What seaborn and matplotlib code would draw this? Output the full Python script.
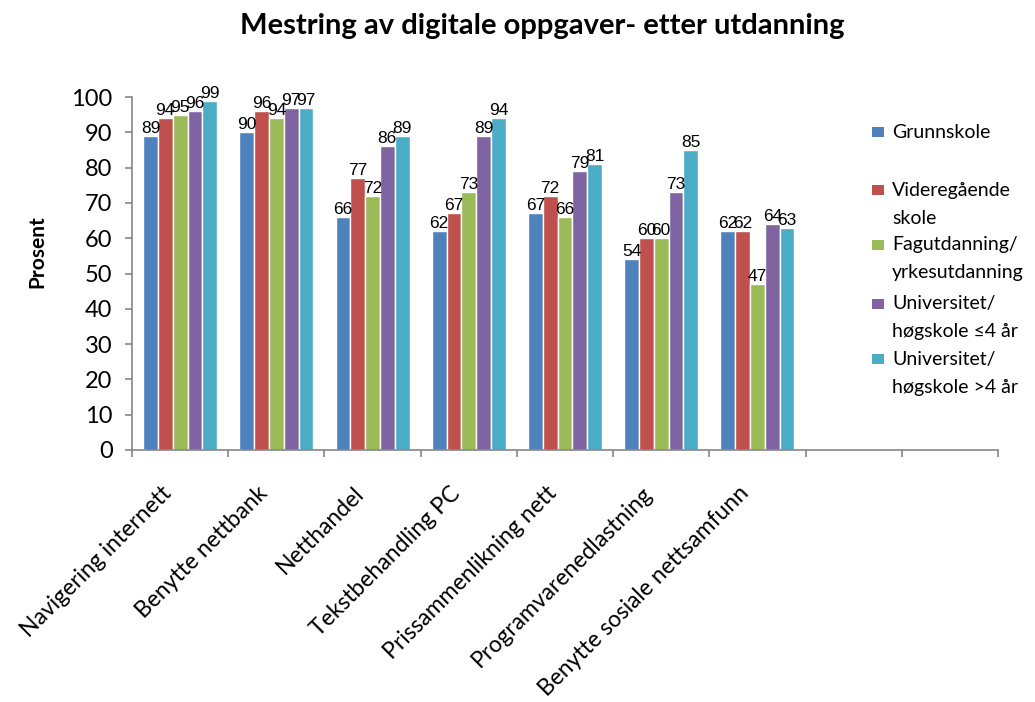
import matplotlib
matplotlib.use("Agg")
import matplotlib.pyplot as plt
from matplotlib.patches import Rectangle
from matplotlib.ticker import FixedLocator, NullFormatter
from matplotlib.transforms import ScaledTranslation
import seaborn as sns
import pandas as pd

# Tasks and education levels
oppgaver = [
    "Navigering internett",
    "Benytte nettbank",
    "Netthandel",
    "Tekstbehandling PC",
    "Prissammenlikning nett",
    "Programvarenedlastning",
    "Benytte sosiale nettsamfunn",
]
utdanning = [
    "Grunnskole",
    "Videregående skole",
    "Fagutdanning/ yrkesutdanning",
    "Universitet/ høgskole ≤4 år",
    "Universitet/ høgskole >4 år",
]
legend_lines = [
    ["Grunnskole"],
    ["Videregående", "skole"],
    ["Fagutdanning/", "yrkesutdanning"],
    ["Universitet/", "høgskole ≤4 år"],
    ["Universitet/", "høgskole >4 år"],
]

# Percent mastering each task, one list per education level
grunnskole = [89, 90, 66, 62, 67, 54, 62]
videregaende = [94, 96, 77, 67, 72, 60, 62]
fagutdanning = [95, 94, 72, 73, 66, 60, 47]
uni_kort = [96, 97, 86, 89, 79, 73, 64]
uni_lang = [99, 97, 89, 94, 81, 85, 63]

farger = ["#4F81BD", "#C0504D", "#9BBB59", "#8064A2", "#4BACC6"]

serier = [grunnskole, videregaende, fagutdanning, uni_kort, uni_lang]
rows = []
for niva, verdier in zip(utdanning, serier):
    for opp, v in zip(oppgaver, verdier):
        rows.append({"oppgave": opp, "utdanning": niva, "prosent": v})
df = pd.DataFrame(rows)

sns.set_theme(style="white")
plt.rcParams["font.family"] = ["Lato", "DejaVu Sans"]

W, H = 1035, 702
fig = plt.figure(figsize=(W / 100, H / 100), dpi=100)
ax = fig.add_axes([132 / W, 1 - 450 / H, (998 - 132) / W, (450 - 97) / H])


def px(x, y):
    return x / W, 1 - y / H


sns.barplot(
    data=df, x="oppgave", y="prosent", hue="utdanning",
    order=oppgaver, hue_order=utdanning, palette=farger,
    saturation=1, width=0.77, legend=False, ax=ax,
)

for cont in ax.containers:
    ax.bar_label(cont, fmt="%d", padding=0, fontsize=12.5,
                 family=["Liberation Sans", "DejaVu Sans"], color="black")

ax.set_xlim(-0.5, 8.5)
ax.set_ylim(0, 100)
ax.set_yticks(range(0, 101, 10))
ax.set_xlabel("")
ax.set_ylabel("")

grey = "#868686"
for side in ["top", "right"]:
    ax.spines[side].set_visible(False)
for side in ["left", "bottom"]:
    ax.spines[side].set_color(grey)
    ax.spines[side].set_linewidth(1.2)

ax.tick_params(axis="y", which="major", length=5, width=1.2, color=grey,
               direction="out", labelsize=17, pad=9, left=True,
               labelcolor="black")
ax.set_xticks(range(len(oppgaver)))
ax.set_xticklabels(oppgaver, rotation=45, ha="right", va="center",
                   rotation_mode="anchor", fontsize=16.5, color="black")
ax.tick_params(axis="x", which="major", length=0, pad=0)
shift = ScaledTranslation(-12 / 100, -40 / 100, fig.dpi_scale_trans)
for lab in ax.get_xticklabels():
    lab.set_transform(lab.get_transform() + shift)
ax.xaxis.set_minor_locator(FixedLocator([i - 0.5 for i in range(10)]))
ax.xaxis.set_minor_formatter(NullFormatter())
ax.tick_params(axis="x", which="minor", length=5, width=1.2, color=grey,
               direction="out", bottom=True)

# Title and axis label
fig.text(*px(542, 26), "Mestring av digitale oppgaver- etter utdanning",
         ha="center", va="center", fontsize=21, fontweight="bold",
         color="black")
fig.text(*px(37, 252), "Prosent", rotation=90, ha="center", va="center",
         fontsize=15, fontweight="bold", color="black")

# Legend on the right
first_line_y = [132, 190, 245, 304, 359]
for farge, linjer, y0 in zip(farger, legend_lines, first_line_y):
    fig.add_artist(Rectangle(px(872, y0 + 5), 12 / W, 10 / H,
                             transform=fig.transFigure, color=farge,
                             linewidth=0))
    for i, linje in enumerate(linjer):
        fig.text(*px(892, y0 + i * 28), linje, ha="left", va="center",
                 fontsize=14, color="black")

fig.savefig("out.png", dpi=100)
